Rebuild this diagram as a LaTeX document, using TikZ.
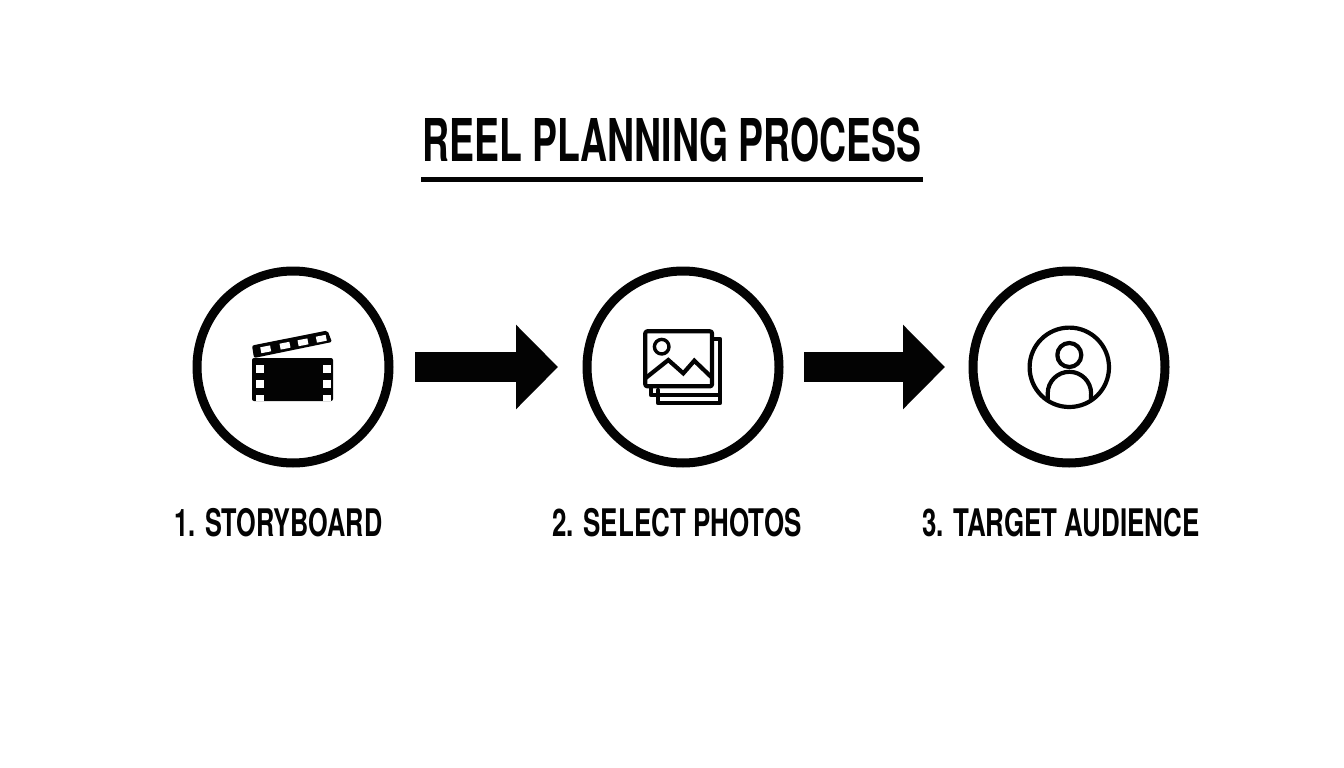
\documentclass[tikz,border=0pt]{standalone}
\usepackage{fontspec}
\setmainfont{TeX Gyre Heros}
\usetikzlibrary{arrows.meta}
\definecolor{ink}{HTML}{030303}
\tikzset{
  stepring/.style={circle,draw=ink,line width=9pt,minimum size=192pt,inner sep=0pt,fill=white},
  flow/.style={draw=ink,line width=30pt,-{Triangle[length=42pt,width=82pt,fill=ink]}},
  titletext/.style={text=ink,font=\fontsize{59pt}{59pt}\selectfont\bfseries,xscale=0.634,transform shape,inner sep=0pt},
  steptext/.style={text=ink,font=\fontsize{38pt}{38pt}\selectfont\bfseries,xscale=0.682,transform shape,inner sep=0pt},
  glyph/.style={draw=ink,line width=4.2pt,line join=round,line cap=round},
}
\begin{document}
\begin{tikzpicture}[x=1pt,y=-1pt]
\useasboundingbox (0,0) rectangle (1344,768);
\fill[white] (0,0) rectangle (1344,768);
% title
\node[titletext,anchor=center] (title) at (672,140) {REEL PLANNING PROCESS};
\coordinate (ruleL) at (421,179.5);
\coordinate (ruleR) at (923,179.5);
\draw[draw=ink,line width=4.5pt] (ruleL) -- (ruleR);
% circles
\node[stepring] (c1) at (293,367) {};
\node[stepring] (c2) at (683,367) {};
\node[stepring] (c3) at (1069,367) {};
% arrows
\draw[flow,shorten <=21.5pt,shorten >=24.5pt] (c1) -- (c2);
\draw[flow,shorten <=20.5pt,shorten >=23.5pt] (c2) -- (c3);
% labels
\node[steptext,xscale=0.975] (l1) at (278.5,523) {1. STORYBOARD};
\node[steptext] (l2) at (677,523) {2. SELECT PHOTOS};
\node[steptext] (l3) at (1061,523) {3. TARGET AUDIENCE};
% clapperboard
\fill[ink,rounded corners=2pt] (252,358) rectangle (333,401);
\fill[ink,rounded corners=2pt] (252,345.5) -- (327.5,330.5) -- (332,342) -- (254,358) -- cycle;
\foreach \y in {365,380,395}{
  \fill[white] (256,\y) rectangle (264,{min(\y+7.5,401)});
  \fill[white] (323,\y) rectangle (331,{min(\y+7.5,401)});
}
\foreach \x/\y in {265.7/349.3,285/345.7,303/342.3,321.3/338.7}{
  \fill[white,rotate around={11:(\x,\y)}] (\x-5,\y-3) rectangle (\x+5,\y+3);
}
% photos
\draw[glyph] (714,339) -- (720,339) -- (720,403) -- (658,403) -- (658,390);
\draw[glyph] (651,388) -- (651,395) -- (719,395);
\draw[glyph,rounded corners=2pt] (645.3,331.3) rectangle (712,386.3);
\draw[glyph,line width=3.4pt] (661.7,346.7) circle (7.3);
\draw[glyph,line cap=butt,line join=miter] (645.7,378) -- (668.3,360) -- (683.3,373.3) -- (694.3,360.7) -- (712.3,378);
% person
\draw[glyph] (1069.3,367.3) circle (39.7);
\draw[glyph] (1069.3,355) circle (12);
\draw[glyph,line cap=butt] (1047.7,399) -- (1047.7,393.5) arc[start angle=180,end angle=360,radius=21.7] -- (1091,399);
\end{tikzpicture}
\end{document}
